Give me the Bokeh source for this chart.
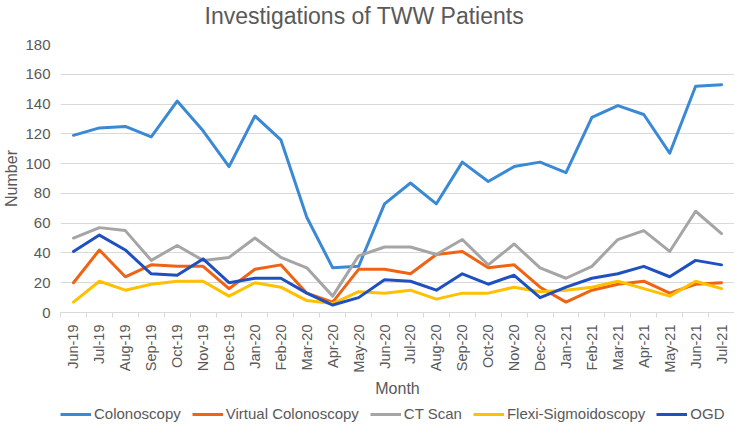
from bokeh.plotting import figure
from bokeh.models import Range1d, FixedTicker, Legend, LegendItem
from bokeh.layouts import column
from bokeh.embed import file_html
from bokeh.resources import INLINE
from math import pi

months = ["Jun-19", "Jul-19", "Aug-19", "Sep-19", "Oct-19", "Nov-19", "Dec-19",
          "Jan-20", "Feb-20", "Mar-20", "Apr-20", "May-20", "Jun-20", "Jul-20",
          "Aug-20", "Sep-20", "Oct-20", "Nov-20", "Dec-20", "Jan-21", "Feb-21",
          "Mar-21", "Apr-21", "May-21", "Jun-21", "Jul-21"]
colonoscopy = [119, 124, 125, 118, 142, 122, 98, 132, 116, 64, 30, 31, 73, 87,
               73, 101, 88, 98, 101, 94, 131, 139, 133, 107, 152, 153]
virtual_colonoscopy = [20, 42, 24, 32, 31, 31, 16, 29, 32, 13, 7, 29, 29, 26,
                       39, 41, 30, 32, 17, 7, 15, 19, 21, 13, 19, 20]
ct_scan = [50, 57, 55, 35, 45, 35, 37, 50, 37, 30, 11, 38, 44, 44,
           39, 49, 32, 46, 30, 23, 31, 49, 55, 41, 68, 53]
flexi_sigmoidoscopy = [7, 21, 15, 19, 21, 21, 11, 20, 17, 8, 6, 14, 13, 15,
                       9, 13, 13, 17, 14, 15, 17, 21, 16, 11, 21, 16]
ogd = [41, 52, 42, 26, 25, 36, 20, 23, 23, 13, 5, 10, 22, 21,
       15, 26, 19, 25, 10, 17, 23, 26, 31, 24, 35, 32]
y_ticks = [0, 20, 40, 60, 80, 100, 120, 140, 160, 180]

series = [
    ("Colonoscopy", colonoscopy, "#3A89D5"),
    ("Virtual Colonoscopy", virtual_colonoscopy, "#EE6414"),
    ("CT Scan", ct_scan, "#A5A5A5"),
    ("Flexi-Sigmoidoscopy", flexi_sigmoidoscopy, "#FFC000"),
    ("OGD", ogd, "#1F50C0"),
]

FONT = "Liberation Sans"
TXT = "#595959"
GRID = "#D9D9D9"

xs = list(range(len(months)))


def strip(height):
    f = figure(width=734, height=height, output_backend="svg", toolbar_location=None,
               x_axis_location=None, y_axis_location=None,
               min_border_left=0, min_border_right=0, min_border_top=0,
               min_border_bottom=0, x_range=Range1d(-0.5, len(months) - 0.5),
               y_range=Range1d(1000, 1001))
    f.grid.visible = False
    f.outline_line_color = None
    f.border_fill_color = "white"
    return f


# title strip
tf = strip(31)
tf.title.text = "Investigations of TWW Patients"
tf.title.align = "left"
tf.title.offset = 144
tf.title.text_font = FONT
tf.title.text_font_size = "23px"
tf.title.text_font_style = "normal"
tf.title.text_color = TXT
tf.title.standoff = 0

# main chart
p = figure(width=734, height=369, output_backend="svg", toolbar_location=None,
           x_range=Range1d(-0.5, len(months) - 0.5), y_range=Range1d(0, 180),
           min_border_left=60, min_border_right=0, min_border_top=13,
           min_border_bottom=88)
p.outline_line_color = None
p.background_fill_color = "white"
p.border_fill_color = "white"

# y axis
p.yaxis.ticker = FixedTicker(ticks=y_ticks)
p.yaxis.axis_line_color = None
p.yaxis.major_tick_line_color = None
p.yaxis.minor_tick_line_color = None
p.yaxis.major_tick_out = 0
p.yaxis.major_tick_in = 0
p.yaxis.major_label_standoff = 10
p.yaxis.major_label_text_font = FONT
p.yaxis.major_label_text_font_size = "15px"
p.yaxis.major_label_text_color = TXT
p.yaxis.axis_label = "Number"
p.yaxis.axis_label_text_font = FONT
p.yaxis.axis_label_text_font_size = "16px"
p.yaxis.axis_label_text_font_style = "normal"
p.yaxis.axis_label_text_color = TXT
p.yaxis.axis_label_standoff = 2

# x axis
p.xaxis.ticker = FixedTicker(ticks=xs, minor_ticks=[i - 0.5 for i in range(len(months) + 1)])
p.xaxis.major_label_overrides = {i: m for i, m in enumerate(months)}
p.xaxis.major_label_orientation = pi / 2
p.xaxis.axis_line_color = GRID
p.xaxis.major_tick_line_color = None
p.xaxis.major_tick_out = 0
p.xaxis.major_tick_in = 0
p.xaxis.minor_tick_line_color = GRID
p.xaxis.minor_tick_out = 5
p.xaxis.minor_tick_in = 0
p.xaxis.major_label_standoff = 7
p.xaxis.major_label_text_font = FONT
p.xaxis.major_label_text_font_size = "14.5px"
p.xaxis.major_label_text_color = TXT
p.xaxis.axis_label = "Month"
p.xaxis.axis_label_text_font = FONT
p.xaxis.axis_label_text_font_size = "16px"
p.xaxis.axis_label_text_font_style = "normal"
p.xaxis.axis_label_text_color = TXT
p.xaxis.axis_label_standoff = 4

p.xgrid.grid_line_color = None
p.ygrid.grid_line_color = GRID
p.ygrid.grid_line_width = 1

for name, vals, color in series:
    p.line(xs, vals, line_color=color, line_width=3, line_join="round", line_cap="round")

# legend strip below the chart (series drawn off-screen, only the legend shows)
lg = strip(24)
items = []
for name, vals, color in series:
    r = lg.line(xs, vals, line_color=color, line_width=3)
    items.append(LegendItem(label=name, renderers=[r]))
legend = Legend(items=items, orientation="horizontal", location=(0, 2),
                glyph_width=31, glyph_height=14, label_standoff=3, spacing=11,
                padding=0, margin=0, border_line_color=None,
                background_fill_alpha=0,
                label_text_font=FONT, label_text_font_size="15px",
                label_text_color=TXT)
lg.add_layout(legend, "center")

layout = column(tf, p, lg, spacing=0)
open("out.html", "w").write(file_html(layout, INLINE))
